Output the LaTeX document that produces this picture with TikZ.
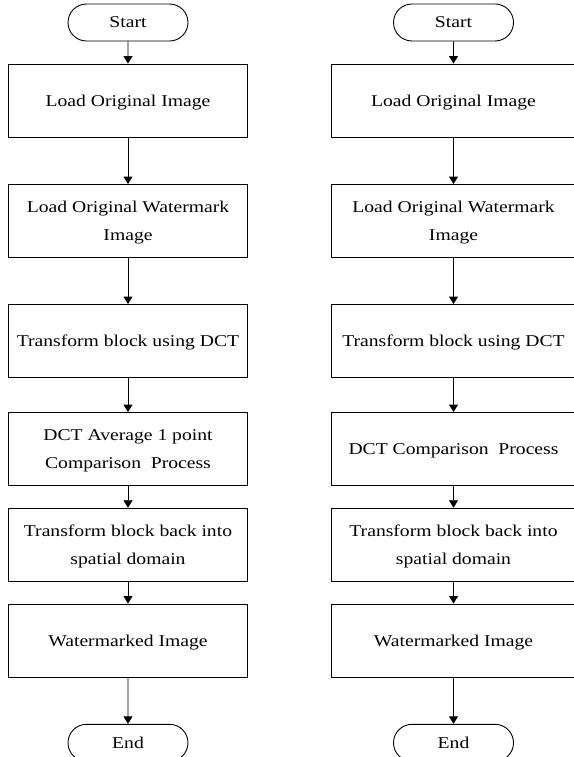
\documentclass[tikz,border=0pt]{standalone}
\usepackage{fontspec}
\setmainfont{Liberation Serif}[FakeStretch=1.19]
\usetikzlibrary{arrows.meta, shapes.misc, positioning}

\begin{document}
\begin{tikzpicture}[x=1pt, y=-1pt,
		every node/.style={font=\fontsize{16.5}{27.5}\selectfont, align=center, inner sep=0pt, text depth=0pt},
		box/.style={draw, line width=0.9pt, minimum width=#1, minimum height=73pt},
		box/.default=239pt,
		term/.style={draw, line width=0.9pt, rounded rectangle, minimum width=120pt, minimum height=37pt},
		flow/.style={-{Triangle[length=7.5pt,width=9pt]}, line width=0.9pt}]
		\useasboundingbox (0,0) rectangle (573,757);

		% left flow
		\draw (128,22.5) node[term] (ls) {Start}
		(128,100.5) node[box] (l1) {Load Original Image}
		(128,221) node[box] (l2) {Load Original Watermark\\Image}
		(128,341) node[box] (l3) {Transform block using DCT}
		(128,449) node[box] (l4) {DCT Average 1 point\\Comparison\ \ Process}
		(128,544.7) node[box] (l5) {Transform block back into\\spatial domain}
		(128,640.5) node[box] (l6) {Watermarked Image}
		(128,742.8) node[term] (le) {End};

		% right flow
		\draw (453.5,22.5) node[term] (rs) {Start}
		(453.5,100.5) node[box=245pt] (r1) {Load Original Image}
		(453.5,221) node[box=245pt] (r2) {Load Original Watermark\\Image}
		(453.5,341) node[box=245pt] (r3) {Transform block using DCT}
		(453.5,449) node[box=245pt] (r4) {DCT Comparison\ \ Process}
		(453.5,544.7) node[box=245pt] (r5) {Transform block back into\\spatial domain}
		(453.5,640.5) node[box=245pt] (r6) {Watermarked Image}
		(453.5,742.8) node[term] (re) {End};

		\draw[flow] (ls) -- (l1);
		\draw[flow] (l1) -- (l2);
		\draw[flow] (l2) -- (l3);
		\draw[flow] (l3) -- (l4);
		\draw[flow] (l4) -- (l5);
		\draw[flow] (l5) -- (l6);
		\draw[flow] (l6) -- (le);

		\draw[flow] (rs) -- (r1);
		\draw[flow] (r1) -- (r2);
		\draw[flow] (r2) -- (r3);
		\draw[flow] (r3) -- (r4);
		\draw[flow] (r4) -- (r5);
		\draw[flow] (r5) -- (r6);
		\draw[flow] (r6) -- (re);
	\end{tikzpicture}
\end{document}
